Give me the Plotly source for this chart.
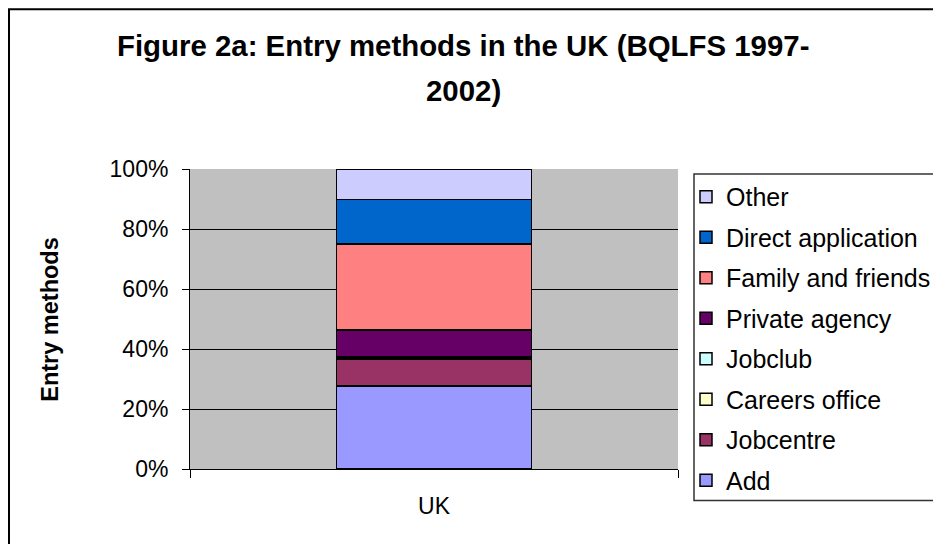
import plotly.graph_objects as go

categories = ["UK"]
series_names = ["Add", "Jobcentre", "Careers office", "Jobclub",
                "Private agency", "Family and friends", "Direct application", "Other"]
series_values = [[27.6], [9.1], [0.4], [0.3], [9.0], [28.6], [14.9], [10.1]]
series_colors = ["#9999FF", "#993366", "#FFFFCC", "#CCFFFF",
                 "#660066", "#FF8080", "#0066CC", "#CCCCFF"]
y_ticks = [0, 20, 40, 60, 80, 100]
y_ticktext = [f"{v}%" for v in y_ticks]

FONT = "Arial, Liberation Sans, sans-serif"

fig = go.Figure()
n = len(series_names)
for i, (name, vals, col) in enumerate(zip(series_names, series_values, series_colors)):
    fig.add_trace(go.Bar(
        x=categories, y=vals, name=name, legendgroup=name,
        legendrank=n - i,
        marker=dict(color=col, line=dict(color="black", width=1.5)),
        hoverinfo="name+y",
    ))

W, H = 933, 544
L, R, T, B = 190, 255, 169, 74.5
pw, ph = W - L - R, H - T - B

def px(xp):
    return (xp - L) / pw

def py(yp):
    return (H - B - yp) / ph

fig.update_layout(
    width=W, height=H,
    barmode="stack", bargap=0.6,
    paper_bgcolor="white", plot_bgcolor="#C0C0C0",
    margin=dict(l=L, r=R, t=T, b=B, autoexpand=False),
    font=dict(family=FONT, size=22, color="black"),
    showlegend=True,
    legend=dict(
        x=px(686), y=py(174), xanchor="left", yanchor="top",
        traceorder="grouped", tracegroupgap=5,
        bgcolor="rgba(0,0,0,0)", borderwidth=0,
        font=dict(family=FONT, size=25, color="black"),
        itemwidth=30, maxheight=600,
    ),
    xaxis=dict(
        showgrid=False, ticks="outside", ticklen=8, tickcolor="black",
        tickson="boundaries", showline=True, linecolor="black", linewidth=1,
        tickfont=dict(family=FONT, size=23), ticklabelstandoff=16,
    ),
    yaxis=dict(
        range=[0, 100], tickvals=y_ticks, ticktext=y_ticktext,
        showgrid=True, gridcolor="black", gridwidth=1,
        ticks="outside", ticklen=7, tickcolor="black",
        showline=True, linecolor="black", linewidth=1,
        tickfont=dict(family=FONT, size=23), ticklabelstandoff=9,
        zeroline=False,
    ),
    shapes=[
        dict(type="rect", xref="paper", yref="paper",
             x0=px(9), x1=px(W + 40), y0=py(H + 40), y1=py(9),
             line=dict(color="black", width=2), fillcolor="rgba(0,0,0,0)",
             layer="below"),
        dict(type="rect", xref="paper", yref="paper",
             x0=px(694), x1=px(W + 40), y0=py(501), y1=py(174),
             line=dict(color="#333333", width=1.5), fillcolor="white",
             layer="below"),
    ],
    annotations=[
        dict(text="<b>Figure 2a: Entry methods in the UK (BQLFS 1997-</b>",
             xref="paper", yref="paper", x=px(463), y=py(45),
             xanchor="center", yanchor="middle", showarrow=False,
             font=dict(family=FONT, size=29.4, color="black")),
        dict(text="<b>2002)</b>",
             xref="paper", yref="paper", x=px(463), y=py(90),
             xanchor="center", yanchor="middle", showarrow=False,
             font=dict(family=FONT, size=29.4, color="black")),
        dict(text="<b>Entry methods</b>", textangle=-90,
             xref="paper", yref="paper", x=px(50), y=py(320),
             xanchor="center", yanchor="middle", showarrow=False,
             font=dict(family=FONT, size=23.5, color="black")),
    ],
)

fig.write_html("out.html")
